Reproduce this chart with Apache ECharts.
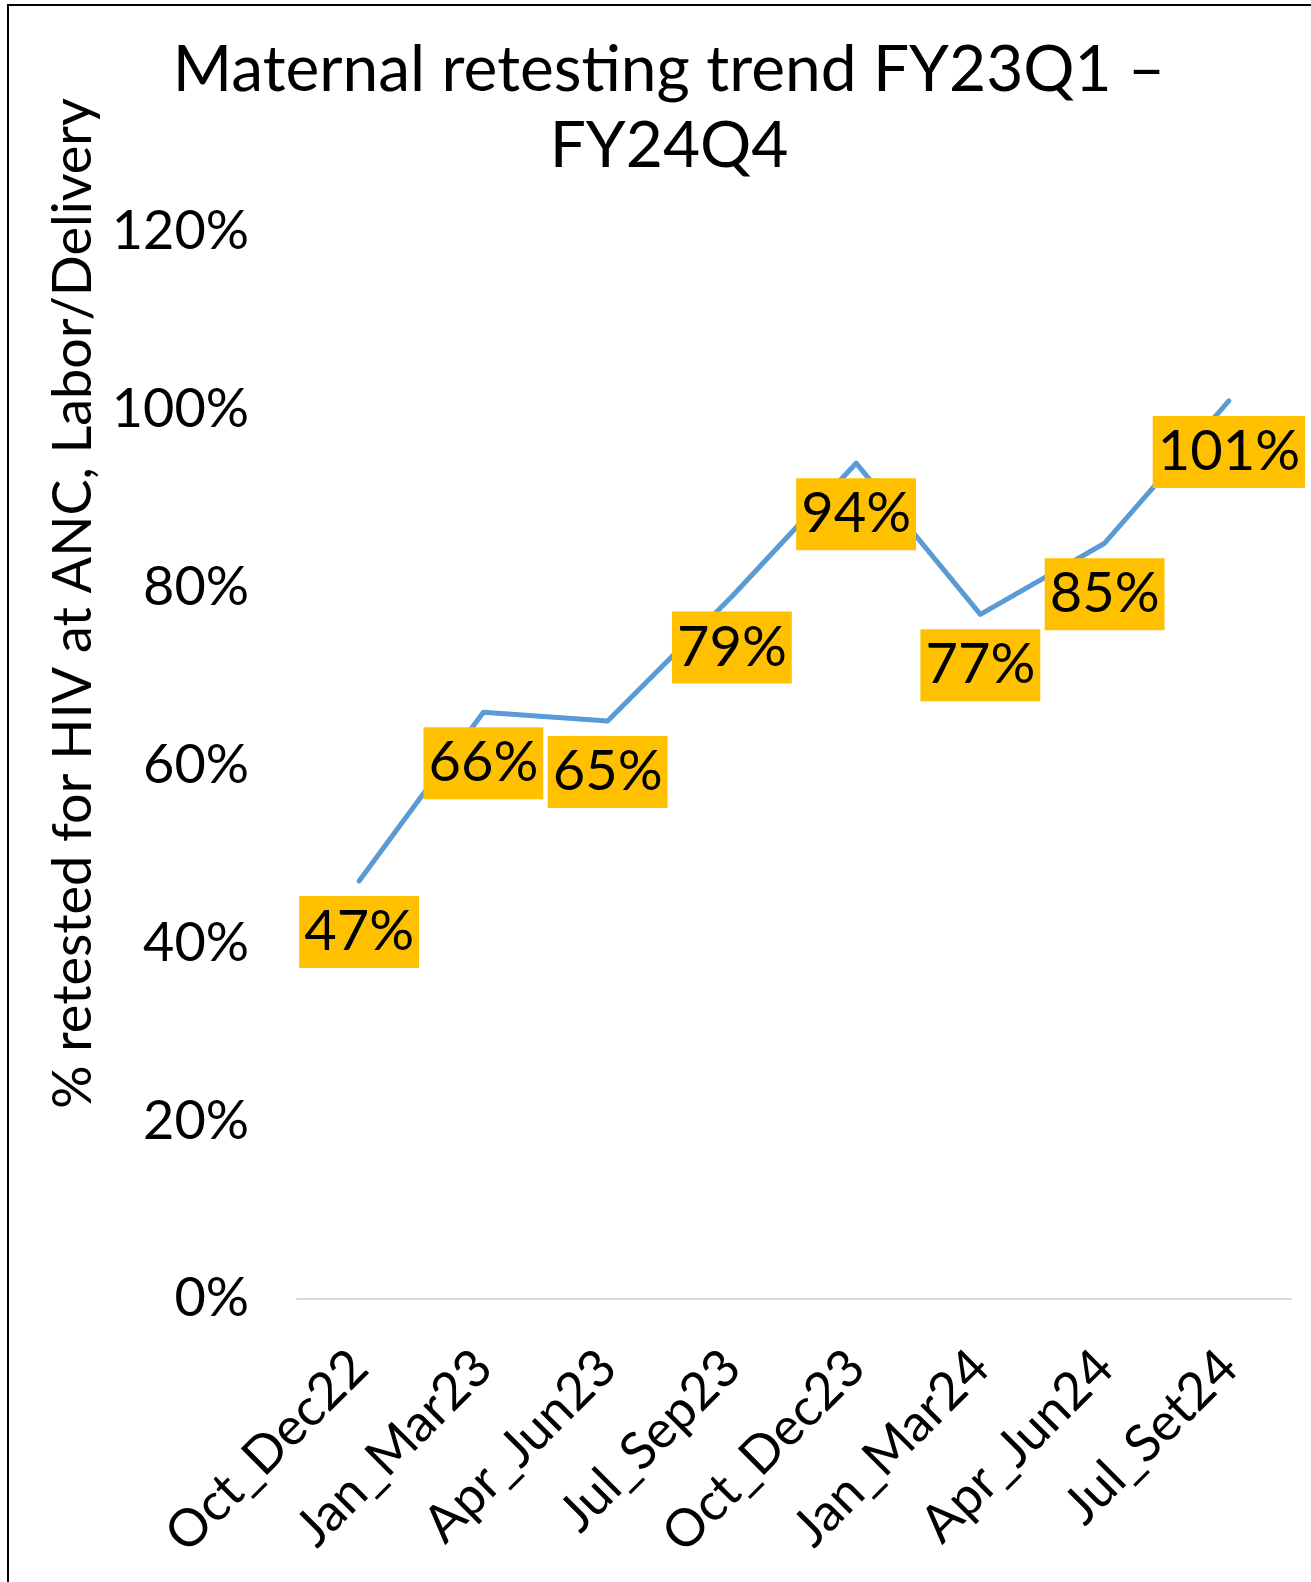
<!DOCTYPE html>
<html>
<head>
<meta charset="utf-8">
<title>Maternal retesting trend</title>
<script src="https://cdn.jsdelivr.net/npm/echarts@6/dist/echarts.min.js"></script>
<style>
  html, body { margin: 0; padding: 0; background: #fff; }
  #lineEcharts { width: 1311px; height: 1582px; }
</style>
</head>
<body>
<div id="lineEcharts"></div>
<script>
// quarters on the x axis
var quarters = ["Oct_Dec22", "Jan_Mar23", "Apr_Jun23", "Jul_Sep23", "Oct_Dec23", "Jan_Mar24", "Apr_Jun24", "Jul_Set24"];
// % retested for HIV at ANC, Labor/Delivery
var retestPct = [47, 66, 65, 79, 94, 77, 85, 101];
// y axis ticks
var yTicks = [0, 20, 40, 60, 80, 100, 120];

var myChart = echarts.init(document.getElementById("lineEcharts"));
var font = "Lato, 'Open Sans', sans-serif";

myChart.setOption({
  backgroundColor: "#fff",
  textStyle: { fontFamily: font },
  title: {
    // \u200c keeps "t" and "i" apart (no ligature), like the original
    text: "Maternal retes\u200cting trend FY23Q1 –\nFY24Q4",
    left: 664,
    textAlign: "center",
    top: 27,
    textStyle: {
      fontFamily: font,
      fontSize: 64,
      fontWeight: "normal",
      color: "#000",
      lineHeight: 76
    }
  },
  grid: {
    left: 297,
    right: 20,
    top: 232,
    bottom: 283,
    containLabel: false
  },
  xAxis: {
    type: "category",
    data: quarters,
    boundaryGap: true,
    axisLine: { show: true, lineStyle: { color: "#d9d9d9", width: 2 } },
    axisTick: { show: false },
    axisLabel: {
      interval: 0,
      rotate: 45,
      margin: 60,
      fontSize: 52,
      color: "#000",
      fontFamily: font
    }
  },
  yAxis: {
    type: "value",
    min: yTicks[0],
    max: yTicks[yTicks.length - 1],
    interval: 20,
    name: "% retested for HIV at ANC, Labor/Delivery",
    nameLocation: "middle",
    nameGap: 183,
    nameTextStyle: {
      fontSize: 54,
      color: "#000",
      fontFamily: font,
      padding: [0, 0, 0, 324]
    },
    axisLine: { show: false },
    axisTick: { show: false },
    splitLine: { show: false },
    axisLabel: {
      margin: 48,
      fontSize: 54,
      color: "#000",
      fontFamily: font,
      formatter: function (v) { return v + "%"; }
    }
  },
  series: [
    {
      type: "line",
      data: retestPct,
      symbol: "circle",
      symbolSize: 0,
      showSymbol: true,
      lineStyle: { color: "#5b9bd5", width: 5, cap: "round", join: "round" },
      itemStyle: { color: "#5b9bd5" },
      label: {
        show: true,
        position: "bottom",
        distance: 15,
        formatter: function (p) { return p.value + "%"; },
        fontSize: 56,
        lineHeight: 60,
        color: "#000",
        fontFamily: font,
        backgroundColor: "#ffc000",
        padding: [6, 5]
      }
    }
  ],
  graphic: [
    {
      type: "polyline",
      shape: { points: [[8, 1600], [8, 5], [1320, 5]] },
      style: { fill: null, stroke: "#000", lineWidth: 2 },
      silent: true
    }
  ]
});
</script>
</body>
</html>
